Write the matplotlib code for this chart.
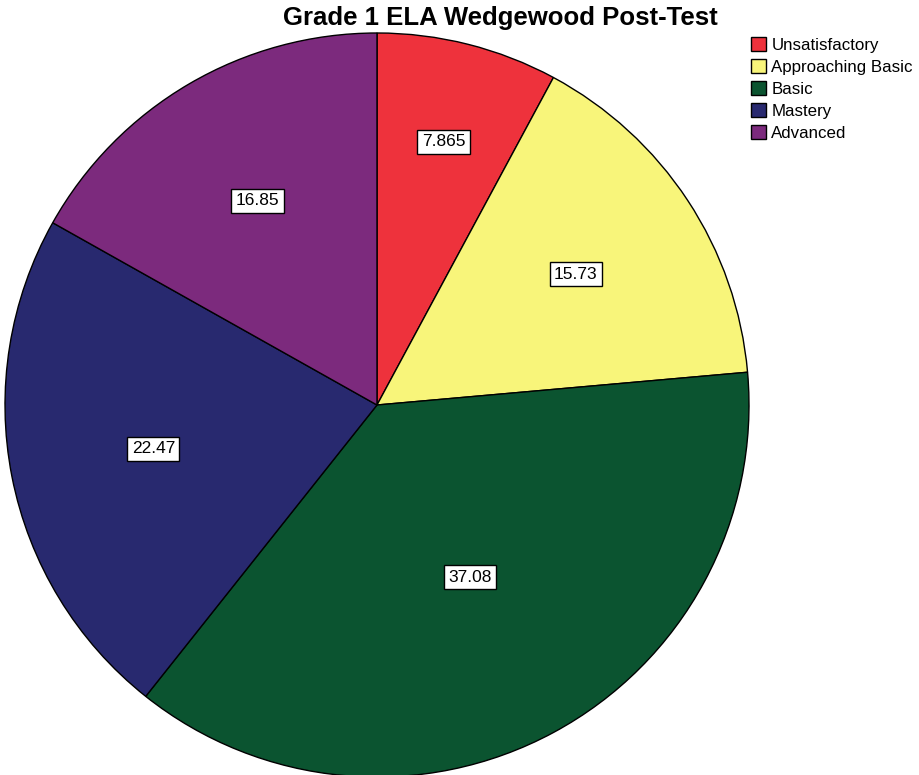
import numpy as np
import matplotlib.pyplot as plt

plt.rcParams['font.family'] = ['Liberation Sans', 'DejaVu Sans']

# data
categories = ['Unsatisfactory', 'Approaching Basic', 'Basic', 'Mastery', 'Advanced']
percents = [7.865, 15.73, 37.08, 22.47, 16.85]
labels = ['7.865', '15.73', '37.08', '22.47', '16.85']
colors = ['#EE323C', '#F8F57A', '#0B5430', '#28296F', '#7C2A7D']

fig = plt.figure(figsize=(9.2, 7.75), dpi=100)
# pie centre ~(377, 405) px, radius ~372 px
R_px = 372
ax = fig.add_axes([(377 - R_px) / 920, (775 - 405 - R_px) / 775, 2 * R_px / 920, 2 * R_px / 775])

wedges, _ = ax.pie(percents, colors=colors, startangle=90, counterclock=False,
                   radius=1.0, wedgeprops=dict(edgecolor='black', linewidth=1.0))
ax.set_xlim(-1, 1)
ax.set_ylim(-1, 1)
ax.set_aspect('equal')
ax.axis('off')

# value labels near wedge centroids (small slices pushed outward)
for w, lab in zip(wedges, labels):
    a1, a2 = np.deg2rad(w.theta1), np.deg2rad(w.theta2)
    half = (a2 - a1) / 2
    mid = (a1 + a2) / 2
    d = 2 * np.sin(half) / (3 * half)
    if half < 0.3:
        d = 0.73
    ax.text(d * np.cos(mid), d * np.sin(mid), lab, ha='center', va='center', fontsize=12.5,
            bbox=dict(boxstyle='square,pad=0.25', facecolor='white', edgecolor='black', linewidth=1.0))

fig.text(500 / 920, 1 - 18 / 775, 'Grade 1 ELA Wedgewood Post-Test', ha='center', va='center',
         fontsize=18.5, fontweight='bold')

leg = fig.legend(wedges, categories, loc='upper left', bbox_to_anchor=(751 / 920, 1 - 37 / 775),
                 frameon=False, fontsize=12.2, handlelength=0.9, handleheight=0.9,
                 handletextpad=0.3, labelspacing=0.36, borderpad=0, borderaxespad=0)

plt.savefig('out.png', dpi=100)
